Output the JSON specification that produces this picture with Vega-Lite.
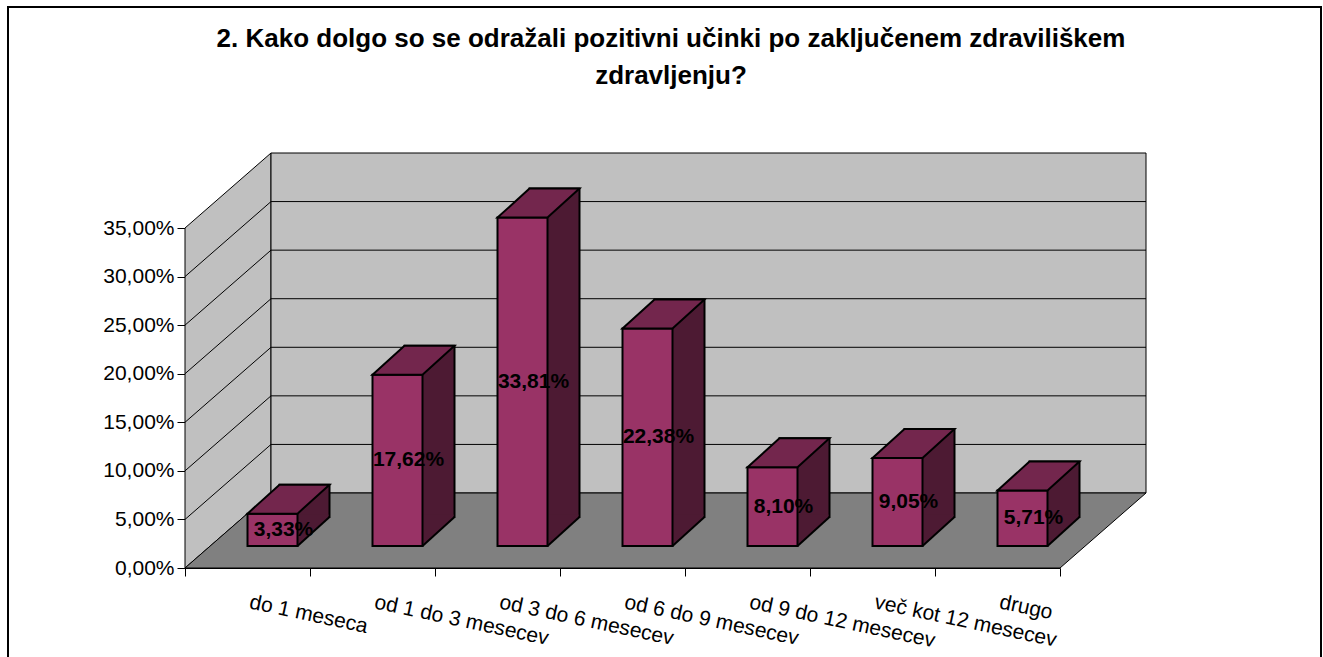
{
  "$schema": "https://vega.github.io/schema/vega-lite/v6.json",
  "autosize": {"type": "none"},
  "width": 875,
  "height": 340,
  "padding": {"left": 185, "top": 228, "right": 263, "bottom": 89},
  "background": "white",
  "config": {
    "font": "Liberation Sans",
    "view": {"stroke": null},
    "locale": {"number": {"decimal": ",", "thousands": ".", "grouping": [3], "currency": ["", " €"]}},
    "axisX": {
      "tickBand": "extent",
      "tickSize": 8,
      "tickColor": "black",
      "domainColor": "black",
      "labelAngle": 12,
      "labelAlign": "left",
      "labelBaseline": "top",
      "labelPadding": 15,
      "labelOffset": 4,
      "labelFontSize": 21,
      "labelFont": "Liberation Sans",
      "labelColor": "black",
      "labelLimit": 400,
      "labelOverlap": false,
      "grid": false
    },
    "axisY": {
      "grid": false,
      "tickSize": 8,
      "tickColor": "black",
      "domainColor": "black",
      "labelFontSize": 21,
      "labelFont": "Liberation Sans",
      "labelColor": "black",
      "labelPadding": 3,
      "labelOverlap": false,
      "labelFlush": false,
      "format": ".2%"
    }
  },
  "title": {
    "text": ["2. Kako dolgo so se odražali pozitivni učinki po zaključenem zdraviliškem", "zdravljenju?"],
    "font": "Liberation Sans",
    "fontSize": 26,
    "fontWeight": "bold",
    "color": "black",
    "lineHeight": 37,
    "anchor": "middle",
    "frame": "bounds",
    "offset": -86,
    "dx": 6.5
  },
  "datasets": {
    "bars": [
      {"cat": "do 1 meseca", "v": 0.0333},
      {"cat": "od 1 do 3 mesecev", "v": 0.1762},
      {"cat": "od 3 do 6 mesecev", "v": 0.3381},
      {"cat": "od 6 do 9 mesecev", "v": 0.2238},
      {"cat": "od 9 do 12 mesecev", "v": 0.0810},
      {"cat": "več kot 12 mesecev", "v": 0.0905},
      {"cat": "drugo", "v": 0.0571}
    ],
    "grid": [
      {"g": 0.05}, {"g": 0.10}, {"g": 0.15}, {"g": 0.20}, {"g": 0.25}, {"g": 0.30}
    ]
  },
  "data": {"name": "bars"},
  "encoding": {
    "x": {
      "field": "cat",
      "type": "nominal",
      "title": null,
      "scale": {
        "domain": ["do 1 meseca", "od 1 do 3 mesecev", "od 3 do 6 mesecev", "od 6 do 9 mesecev", "od 9 do 12 mesecev", "več kot 12 mesecev", "drugo"],
        "paddingInner": 0,
        "paddingOuter": 0
      }
    }
  },
  "layer": [
    {
      "layer": [
        {
          "transform": [{"filter": "datum.cat == 'do 1 meseca'"}],
          "mark": {"type": "point", "shape": "M-62.5,0L-62.5,-340L23.5,-415L23.5,-75Z", "size": 4, "filled": true, "fill": "#c0c0c0", "stroke": "black", "strokeWidth": 1, "opacity": 1},
          "encoding": {"y": {"datum": 0, "type": "quantitative", "title": null, "scale": {"domain": [0, 0.35], "nice": false}, "axis": {"values": [0, 0.05, 0.1, 0.15, 0.2, 0.25, 0.3, 0.35]}}}
        },
        {
          "transform": [{"filter": "datum.cat == 'do 1 meseca'"}],
          "mark": {"type": "point", "shape": "M23.5,-415L898.5,-415L898.5,-75L23.5,-75Z", "size": 4, "filled": true, "fill": "#c0c0c0", "stroke": "black", "strokeWidth": 1, "opacity": 1},
          "encoding": {"y": {"datum": 0, "type": "quantitative", "title": null, "scale": {"domain": [0, 0.35], "nice": false}, "axis": {"values": [0, 0.05, 0.1, 0.15, 0.2, 0.25, 0.3, 0.35]}}}
        },
        {
          "transform": [{"filter": "datum.cat == 'do 1 meseca'"}],
          "mark": {"type": "point", "shape": "M-62.5,0L812.5,0L898.5,-75L23.5,-75Z", "size": 4, "filled": true, "fill": "#808080", "stroke": "black", "strokeWidth": 1, "opacity": 1},
          "encoding": {"y": {"datum": 0, "type": "quantitative", "title": null, "scale": {"domain": [0, 0.35], "nice": false}, "axis": {"values": [0, 0.05, 0.1, 0.15, 0.2, 0.25, 0.3, 0.35]}}}
        },
        {
          "data": {"name": "grid"},
          "mark": {"type": "point", "shape": "M-62.5,0L23.5,-75L898.5,-75", "size": 4, "filled": false, "stroke": "black", "strokeWidth": 1, "opacity": 1},
          "encoding": {
            "x": {"datum": "do 1 meseca", "type": "nominal", "title": null},
            "y": {"field": "g", "type": "quantitative", "title": null, "scale": {"domain": [0, 0.35], "nice": false}, "axis": {"values": [0, 0.05, 0.1, 0.15, 0.2, 0.25, 0.3, 0.35]}}
          }
        },
        {
          "transform": [{"filter": "datum.cat == 'do 1 meseca'"}],
          "mark": {"type": "point", "shape": "M-239.5,-561L1073.5,-561L1073.5,132L-239.5,132Z", "size": 4, "filled": false, "stroke": "black", "strokeWidth": 2, "opacity": 1},
          "encoding": {"y": {"datum": 0, "type": "quantitative", "title": null, "scale": {"domain": [0, 0.35], "nice": false}, "axis": {"values": [0, 0.05, 0.1, 0.15, 0.2, 0.25, 0.3, 0.35]}}}
        },
        {
          "mark": {"type": "bar", "width": 50, "xOffset": 57, "yOffset": -51, "fill": "#4d1a33", "stroke": "black", "strokeWidth": 2},
          "encoding": {"y": {"field": "v", "type": "quantitative", "title": null, "scale": {"domain": [0, 0.35], "nice": false}, "axis": {"values": [0, 0.05, 0.1, 0.15, 0.2, 0.25, 0.3, 0.35]}}}
        },
        {
          "mark": {"type": "point", "shape": "M50,-22L81,-50L81,-53.5L50,-53.5Z", "size": 4, "filled": true, "fill": "#4d1a33", "strokeWidth": 0, "opacity": 1},
          "encoding": {"y": {"datum": 0, "type": "quantitative", "title": null, "scale": {"domain": [0, 0.35], "nice": false}, "axis": {"values": [0, 0.05, 0.1, 0.15, 0.2, 0.25, 0.3, 0.35]}}}
        },
        {
          "mark": {"type": "point", "shape": "M50,-22L82,-51", "size": 4, "filled": false, "stroke": "black", "strokeWidth": 2, "opacity": 1},
          "encoding": {"y": {"datum": 0, "type": "quantitative", "title": null, "scale": {"domain": [0, 0.35], "nice": false}, "axis": {"values": [0, 0.05, 0.1, 0.15, 0.2, 0.25, 0.3, 0.35]}}}
        },
        {
          "mark": {"type": "bar", "width": 50, "xOffset": 25, "yOffset": -22, "fill": "#993366", "stroke": "black", "strokeWidth": 2},
          "encoding": {"y": {"field": "v", "type": "quantitative", "title": null, "scale": {"domain": [0, 0.35], "nice": false}, "axis": {"values": [0, 0.05, 0.1, 0.15, 0.2, 0.25, 0.3, 0.35]}}}
        },
        {
          "mark": {"type": "point", "shape": "M0,-22L50,-22L82,-51L32,-51Z", "size": 4, "filled": true, "fill": "#73264d", "stroke": "black", "strokeWidth": 2, "opacity": 1},
          "encoding": {"y": {"field": "v", "type": "quantitative", "title": null, "scale": {"domain": [0, 0.35], "nice": false}, "axis": {"values": [0, 0.05, 0.1, 0.15, 0.2, 0.25, 0.3, 0.35]}}}
        }
      ]
    },
    {
      "mark": {"type": "text", "xOffset": 36, "yOffset": -22, "align": "center", "baseline": "middle", "fontSize": 21, "fontWeight": "bold", "font": "Liberation Sans", "color": "black"},
      "encoding": {
        "y": {"field": "v", "type": "quantitative", "scale": {"domain": [0, 0.7], "nice": false}, "axis": null},
        "text": {"field": "v", "type": "quantitative", "format": ".2%"}
      }
    }
  ],
  "resolve": {"scale": {"y": "independent"}}
}
